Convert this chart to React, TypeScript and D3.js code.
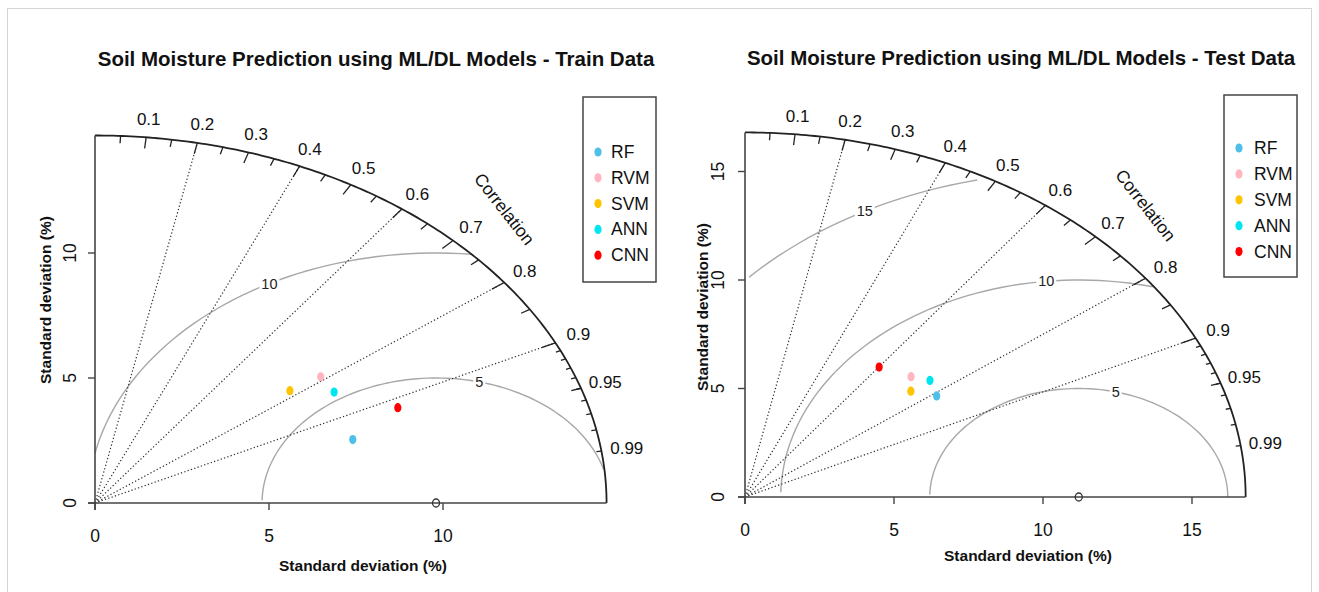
import React from "react"
import * as d3 from "d3"

const models = ["RF", "RVM", "SVM", "ANN", "CNN"]
const modelColors = ["#4dbfe8", "#ffb6c1", "#ffc400", "#00e6f0", "#ff0000"]

// train: standard deviation and correlation of each model
const trainSd = [7.83, 8.22, 7.18, 8.18, 9.5]
const trainCorr = [0.946, 0.789, 0.78, 0.84, 0.916]
const trainRefSd = 9.8

// test
const testSd = [7.94, 7.86, 7.4, 8.21, 7.49]
const testCorr = [0.81, 0.709, 0.752, 0.756, 0.601]
const testRefSd = 11.2

const corrLabels = [0.1, 0.2, 0.3, 0.4, 0.5, 0.6, 0.7, 0.8, 0.9, 0.95, 0.99]
const corrLines = [0.2, 0.4, 0.6, 0.8, 0.9]
const bigTicks = [0.1, 0.2, 0.3, 0.4, 0.5, 0.6, 0.7, 0.8, 0.9]
const medTicks = [0.05, 0.15, 0.25, 0.35, 0.45, 0.55, 0.65, 0.75, 0.85, 0.95]
const smlTicks = [0.91, 0.92, 0.93, 0.94, 0.95, 0.96, 0.97, 0.98, 0.99]

const font = "'Liberation Sans', Arial, Helvetica, sans-serif"
const ink = "#222"

const Taylor = ({ title, sds, corrs, refSd, frame, legend, labels }) => {
  const maxsd = 1.5 * Math.max(refSd, ...sds)
  const { x0, y0, kx, ky } = frame
  const x = d3.scaleLinear().domain([0, maxsd]).range([x0, x0 + maxsd * kx])
  const y = d3.scaleLinear().domain([0, maxsd]).range([y0, y0 - maxsd * ky])
  const pt = (r, c) => [x(r * c), y(r * Math.sqrt(1 - c * c))]
  const line = d3.line().x(d => x(d[0])).y(d => y(d[1]))

  const outer = line(
    d3.range(0, 90.01, 0.5).map(a => [maxsd * Math.cos((a * Math.PI) / 180), maxsd * Math.sin((a * Math.PI) / 180)])
  )
  const axisTicks = d3.ticks(0, maxsd, 3)
  const gammas = axisTicks.filter(g => g > 0)
  const angles = d3.range(0, Math.PI, 0.03)

  const tick = (c, f, k) => {
    const [xa, ya] = pt(maxsd, c)
    const [xb, yb] = pt(maxsd * f, c)
    return <line key={k} x1={xa} y1={ya} x2={xb} y2={yb} stroke={ink} strokeWidth={1.3} />
  }

  return (
    <g fontFamily={font}>
      <text x={labels.title[0]} y={labels.title[1]} textAnchor="middle" fontSize={20.5} fontWeight="bold" fill="#111">
        {title}
      </text>

      {/* sd contours around the reference */}
      {gammas.map((g, i) => {
        const pts = angles
          .map(a => [refSd + g * Math.cos(a), g * Math.sin(a)])
          .filter(p => p[0] >= 0 && p[0] * p[0] + p[1] * p[1] <= maxsd * maxsd)
        const n = gammas.length
        const idx = Math.floor(45 + (n > 1 ? (i * 25) / (n - 1) : 0))
        const la = 0.03 * (idx - 1)
        const lx = x(refSd + g * Math.cos(la))
        const ly = y(g * Math.sin(la))
        const w = String(g).length * 8 + 4
        return (
          <g key={g}>
            <path d={line(pts)} fill="none" stroke="#a8a8a8" strokeWidth={1.4} />
            <rect x={lx - w / 2} y={ly - 8} width={w} height={16} fill="#fff" />
            <text x={lx} y={ly} textAnchor="middle" dominantBaseline="central" fontSize={14.5} fill={ink}>
              {g}
            </text>
          </g>
        )
      })}

      {/* correlation rays */}
      {corrLines.map(c => {
        const [xe, ye] = pt(maxsd, c)
        return (
          <line key={c} x1={x(0)} y1={y(0)} x2={xe} y2={ye} stroke="#333" strokeWidth={1.2} strokeDasharray="1.3,2.2" />
        )
      })}

      <path d={outer} fill="none" stroke={ink} strokeWidth={1.8} />
      {bigTicks.map((c, i) => tick(c, 0.97, "b" + i))}
      {medTicks.map((c, i) => tick(c, 0.98, "m" + i))}
      {smlTicks.map((c, i) => tick(c, 0.99, "s" + i))}
      {corrLabels.map(c => {
        const [lx, ly] = pt(maxsd * 1.05, c)
        return (
          <text key={c} x={lx} y={ly} textAnchor="middle" dominantBaseline="central" fontSize={17} fill="#111">
            {c}
          </text>
        )
      })}
      <text
        transform={`translate(${x(maxsd * 0.8)},${y(maxsd * 0.8)}) rotate(52)`}
        textAnchor="middle"
        dominantBaseline="central"
        fontSize={17.5}
        fill="#111"
      >
        Correlation
      </text>

      {/* axes */}
      <line x1={x(0) - 7} y1={y(0)} x2={x(maxsd)} y2={y(0)} stroke="#444" strokeWidth={1.6} />
      <line x1={x(0)} y1={y(0) + 7} x2={x(0)} y2={y(maxsd)} stroke="#444" strokeWidth={1.6} />
      {axisTicks.map(t => (
        <g key={t}>
          <line x1={x(t)} y1={y(0)} x2={x(t)} y2={y(0) + 7} stroke="#444" strokeWidth={1.4} />
          <text x={x(t)} y={y(0) + 33} textAnchor="middle" dominantBaseline="central" fontSize={17.5} fill="#111">
            {t}
          </text>
          <line x1={x(0) - 7} y1={y(t)} x2={x(0)} y2={y(t)} stroke="#444" strokeWidth={1.4} />
          <text
            transform={`translate(${x(0) - labels.ytick},${y(t)}) rotate(-90)`}
            textAnchor="middle"
            dominantBaseline="central"
            fontSize={17.5}
            fill="#111"
          >
            {t}
          </text>
        </g>
      ))}
      <text x={labels.xlab[0]} y={labels.xlab[1]} textAnchor="middle" fontSize={15.5} fontWeight="bold" fill="#111">
        Standard deviation (%)
      </text>
      <text
        transform={`translate(${labels.ylab[0]},${labels.ylab[1]}) rotate(-90)`}
        textAnchor="middle"
        dominantBaseline="central"
        fontSize={15.5}
        fontWeight="bold"
        fill="#111"
      >
        Standard deviation (%)
      </text>

      {/* reference */}
      <ellipse cx={x(refSd)} cy={y(0)} rx={3.5} ry={4} fill="none" stroke="#333" strokeWidth={1.3} />

      {/* models */}
      {models.map((m, i) => {
        const [cx, cy] = pt(sds[i], corrs[i])
        return <ellipse key={m} cx={cx} cy={cy} rx={3.6} ry={4.6} fill={modelColors[i]} />
      })}

      {/* legend */}
      <rect x={legend.x} y={legend.y} width={legend.w} height={legend.h} fill="#fff" stroke="#444" strokeWidth={1.5} />
      {models.map((m, i) => (
        <g key={m}>
          <ellipse cx={legend.dot} cy={legend.first + i * legend.step} rx={3.6} ry={4.6} fill={modelColors[i]} />
          <text x={legend.text} y={legend.first + i * legend.step} dominantBaseline="central" fontSize={17.5} fill="#111">
            {m}
          </text>
        </g>
      ))}
    </g>
  )
}

export default function App() {
  return (
    <svg width={1319} height={592} style={{ position: "absolute", left: 0, top: 0, background: "#fff" }}>
      <rect x={7.5} y={8.5} width={1304} height={600} fill="#fff" stroke="#d4d4d4" strokeWidth={1} />
      <Taylor
        title="Soil Moisture Prediction using ML/DL Models - Train Data"
        sds={trainSd}
        corrs={trainCorr}
        refSd={trainRefSd}
        frame={{ x0: 95, y0: 503, kx: 34.8, ky: 25 }}
        legend={{ x: 583, y: 97, w: 73, h: 185, first: 152, step: 25.8, dot: 598, text: 611 }}
        labels={{ title: [376, 66], xlab: [363, 571], ylab: [45, 300], ytick: 25 }}
      />
      <Taylor
        title="Soil Moisture Prediction using ML/DL Models - Test Data"
        sds={testSd}
        corrs={testCorr}
        refSd={testRefSd}
        frame={{ x0: 745, y0: 497, kx: 29.8, ky: 21.7 }}
        legend={{ x: 1224, y: 95, w: 73, h: 182, first: 148, step: 25.9, dot: 1239, text: 1254 }}
        labels={{ title: [1021, 65], xlab: [1028, 561], ylab: [702, 307], ytick: 27 }}
      />
    </svg>
  )
}
